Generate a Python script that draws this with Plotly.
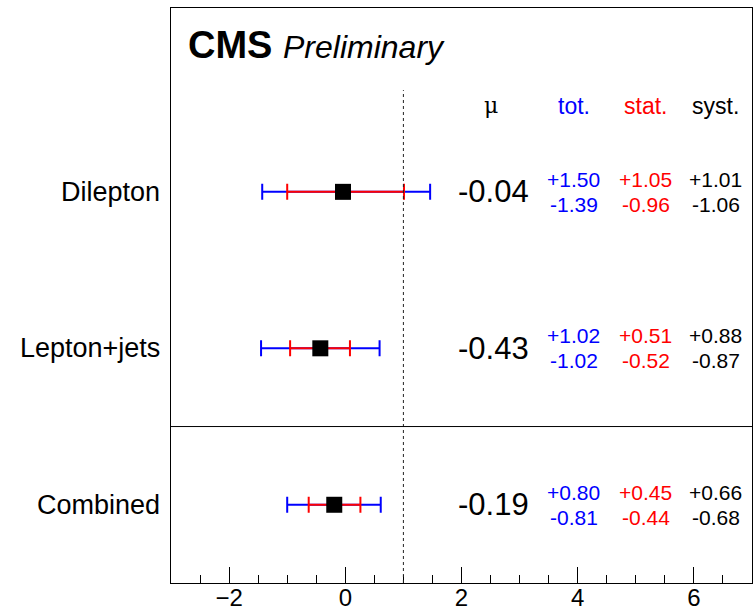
import plotly.graph_objects as go

analyses = ["Combined", "Lepton+jets", "Dilepton"]
ypos = [0, 1, 2]
mu = [-0.19, -0.43, -0.04]
mu_text = ["-0.19", "-0.43", "-0.04"]
tot_up = [0.80, 1.02, 1.50]
tot_dn = [0.81, 1.02, 1.39]
stat_up = [0.45, 0.51, 1.05]
stat_dn = [0.44, 0.52, 0.96]
syst_up = [0.66, 0.88, 1.01]
syst_dn = [0.68, 0.87, 1.06]
x_ticks = [-2, 0, 2, 4, 6]

FONT = "Liberation Sans, Arial, Helvetica, sans-serif"

fig = go.Figure()
fig.add_trace(go.Scatter(
    x=mu, y=ypos, mode="markers",
    marker=dict(size=1, color="rgba(0,0,0,0)"),
    error_x=dict(type="data", symmetric=False, array=tot_up, arrayminus=tot_dn,
                 color="blue", thickness=2, width=8),
    showlegend=False, hoverinfo="skip"))
fig.add_trace(go.Scatter(
    x=mu, y=ypos, mode="markers",
    marker=dict(symbol="square", size=16, color="black"),
    error_x=dict(type="data", symmetric=False, array=stat_up, arrayminus=stat_dn,
                 color="red", thickness=2, width=8),
    showlegend=False))

ann = []
def fmt(v, s):
    return ("+" if s > 0 else "-") + f"{v:.2f}"

x_mu, x_tot, x_stat, x_syst = 2.55, 3.93, 5.17, 6.38
for i, y in enumerate(ypos):
    ann.append(dict(x=0, xref="paper", xshift=-9, y=y, yref="y", text=analyses[i],
                    xanchor="right", showarrow=False,
                    font=dict(family=FONT, size=27, color="black")))
    ann.append(dict(x=x_mu, y=y, text=mu_text[i], showarrow=False,
                    font=dict(family=FONT, size=31, color="black")))
    for xc, up, dn, col in [(x_tot, tot_up, tot_dn, "blue"),
                            (x_stat, stat_up, stat_dn, "red"),
                            (x_syst, syst_up, syst_dn, "black")]:
        ann.append(dict(x=xc, y=y + 0.08, text=fmt(up[i], 1), showarrow=False,
                        font=dict(family=FONT, size=21, color=col)))
        ann.append(dict(x=xc, y=y - 0.08, text=fmt(dn[i], -1), showarrow=False,
                        font=dict(family=FONT, size=21, color=col)))

hy = 2.55
ann.append(dict(x=2.50, y=hy, text="μ", showarrow=False,
                font=dict(family="DejaVu Serif, serif", size=22, color="black")))
ann.append(dict(x=x_tot, y=hy, text="tot.", showarrow=False,
                font=dict(family=FONT, size=23, color="blue")))
ann.append(dict(x=x_stat, y=hy, text="stat.", showarrow=False,
                font=dict(family=FONT, size=23, color="red")))
ann.append(dict(x=x_syst, y=hy, text="syst.", showarrow=False,
                font=dict(family=FONT, size=23, color="black")))
ann.append(dict(x=0.026, xref="paper", y=2.94, yref="y", xanchor="left",
                text="<b>CMS</b> <i><span style='font-size:32px'>Preliminary</span></i>",
                showarrow=False, font=dict(family=FONT, size=38, color="black")))

fig.update_layout(
    width=753, height=613,
    margin=dict(l=171, r=1, t=8, b=30, autoexpand=False),
    paper_bgcolor="white", plot_bgcolor="white",
    annotations=ann,
    shapes=[
        dict(type="line", xref="x", yref="y", x0=1, x1=1, y0=-0.5, y1=2.65,
             line=dict(color="#222222", width=1, dash="3px,3px")),
        dict(type="line", xref="paper", yref="y", x0=0, x1=1, y0=0.5, y1=0.5,
             line=dict(color="black", width=1)),
    ],
)
fig.update_xaxes(range=[-3, 7.0], tickvals=x_ticks, ticks="inside",
                 ticklen=16, tickcolor="black", showgrid=False, zeroline=False,
                 showline=True, linecolor="black", linewidth=1, mirror=True,
                 automargin=False, ticklabelstandoff=-7,
                 tickfont=dict(family=FONT, size=24, color="black"),
                 minor=dict(ticks="inside", ticklen=8, dtick=0.5, tick0=0,
                            tickcolor="black", showgrid=False))
fig.update_yaxes(range=[-0.5, 3.175], showticklabels=False, ticks="",
                 showgrid=False, zeroline=False, automargin=False,
                 showline=True, linecolor="black", linewidth=1, mirror=True)

fig.write_html("out.html", config={"displayModeBar": False},
               post_script="document.body.style.margin='0';document.body.style.overflow='hidden';")
